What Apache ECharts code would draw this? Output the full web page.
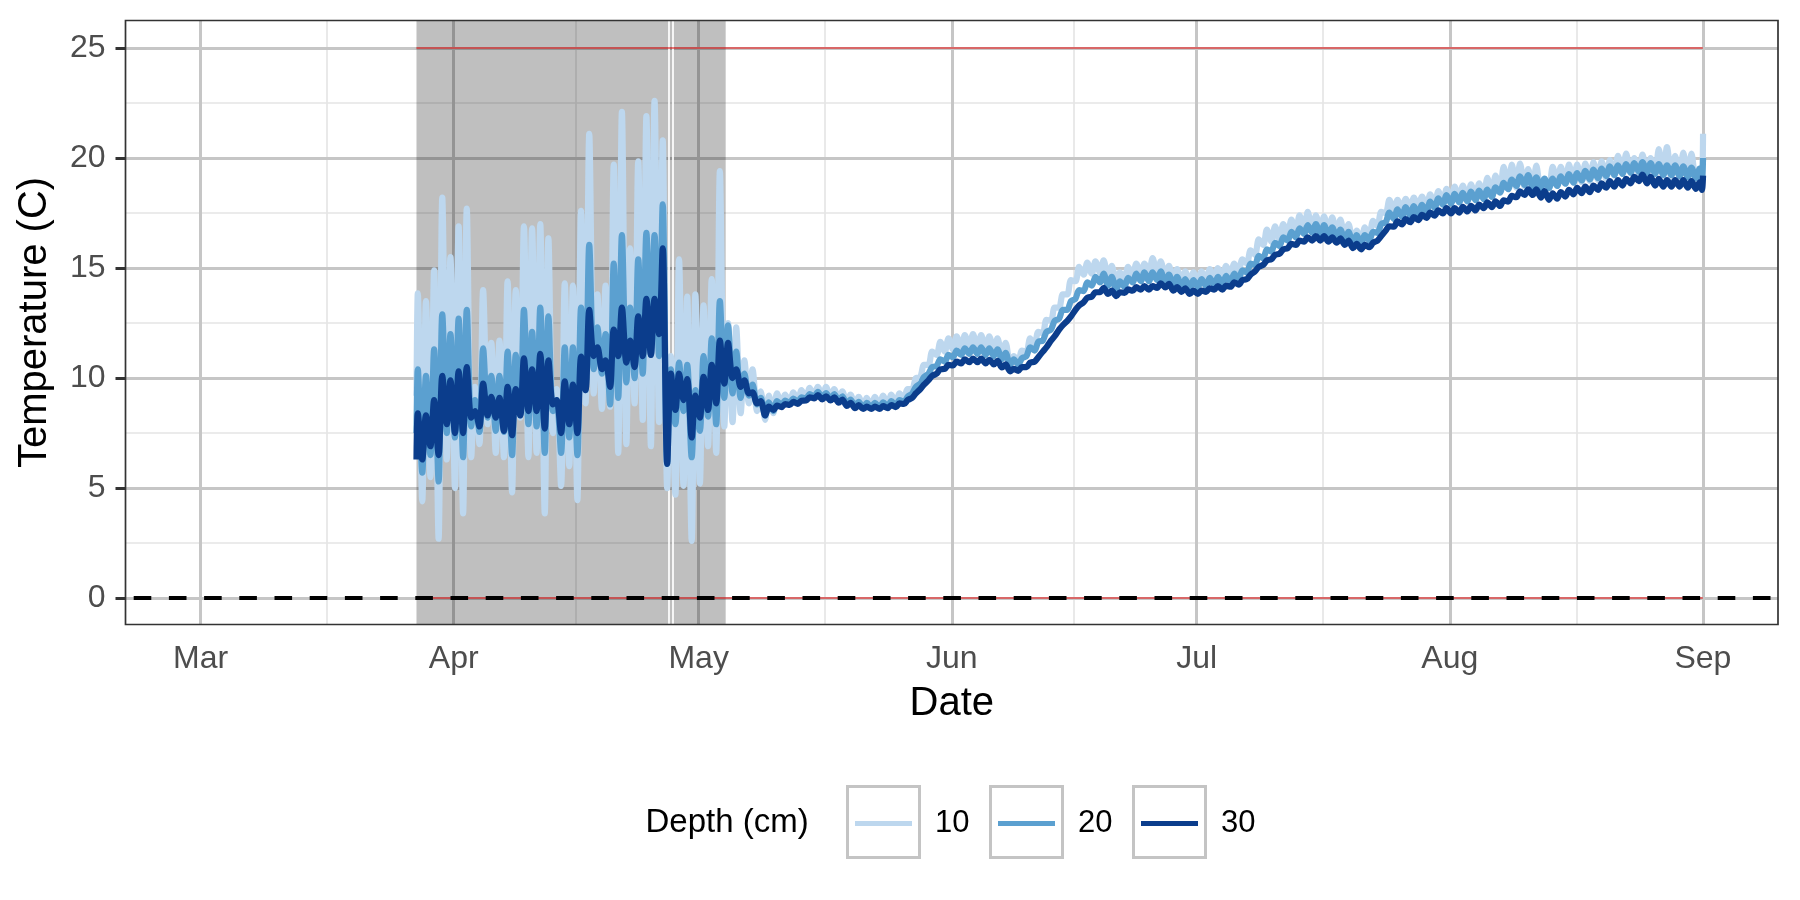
<!DOCTYPE html>
<html><head><meta charset="utf-8">
<script src="https://cdn.jsdelivr.net/npm/echarts@6/dist/echarts.min.js"></script>
<style>html,body{margin:0;padding:0;background:#fff}#chart{width:1800px;height:900px}</style>
</head><body><div id="chart"></div>
<script>
// ---- tick labels / categories ----
const monthLabels = ['Mar','Apr','May','Jun','Jul','Aug','Sep'];
const monthIdx = [2,3,4,5,6,7,8];
const yTicks = [0,5,10,15,20,25];
const depthNames = ['10','20','30'];
const depthColors = ['#bdd7ee','#5ba0d0','#0b3d8c'];
// first day of data = day offset from Mar 1 (Mar 27)
const firstDay = 26;
const shadeRange = [26.44, 64.31];      // days from Mar 1
const gapDays = [57.395, 57.80];
const refLevels = [0, 25];
const refRange = [26.44, 184];

// ---- daily maxima (hi) and minima (lo), days 26..183 ----
const hi10 = [13.85,13.5,14.9,18.2,15.5,16.9,17.7,9.6,14.0,11.6,
11.7,14.4,14.0,16.9,16.8,17.0,16.35,9.5,14.3,14.2,
17.6,21.1,13.8,14.2,19.7,22.1,15.9,19.85,21.9,22.6,
20.8,11.0,15.4,13.7,13.8,13.3,14.5,19.4,12.5,12.3,
10.8,10.4,9.4,9.2,9.3,9.25,9.35,9.45,9.55,9.6,
9.6,9.5,9.4,9.25,9.15,9.1,9.15,9.2,9.25,9.3,
9.5,10.0,10.6,11.2,11.65,11.8,11.9,11.95,12.0,11.95,
11.9,11.8,11.6,11.0,11.25,11.8,12.1,12.65,13.2,13.8,
14.45,15.05,15.25,15.3,15.35,15.1,14.8,15.05,15.2,15.2,
15.45,15.3,15.1,14.95,14.85,14.8,14.85,14.95,15.0,15.1,
15.2,15.4,15.8,16.3,16.75,16.9,17.0,17.2,17.4,17.55,
17.4,17.35,17.3,17.2,17.0,16.7,16.85,17.15,17.55,18.1,
18.1,18.15,18.2,18.25,18.35,18.5,18.6,18.7,18.75,18.8,
18.85,19.1,19.2,19.6,19.7,19.75,19.5,19.65,18.9,19.6,
19.6,19.7,19.7,19.75,19.8,19.85,19.9,20.1,20.2,20.0,
20.15,20.0,20.4,20.5,20.1,20.25,20.2,19.4];
const lo10 = [9.2,4.4,5.5,2.7,6.3,5.0,3.85,6.4,7.0,7.9,
6.6,6.4,4.8,8.2,6.4,6.6,3.85,7.5,5.1,6.0,
4.45,8.85,9.3,8.6,8.7,6.6,7.0,8.85,8.1,6.9,
8.0,5.0,4.7,5.1,2.6,5.2,6.9,6.6,7.8,8.0,
8.4,8.85,8.5,8.1,8.4,8.8,8.9,8.95,9.1,9.2,
9.15,9.1,9.0,8.85,8.75,8.7,8.7,8.75,8.8,8.85,
9.05,9.5,10.05,10.6,11.05,11.2,11.3,11.35,11.4,11.35,
11.3,11.2,11.05,10.6,10.75,11.2,11.5,12.05,12.6,13.2,
13.8,14.4,14.7,14.75,14.8,14.6,14.3,14.55,14.7,14.7,
14.75,14.75,14.6,14.45,14.35,14.3,14.35,14.45,14.5,14.6,
14.7,14.9,15.2,15.6,16.05,16.2,16.3,16.5,16.65,16.8,
16.7,16.7,16.65,16.55,16.35,16.1,16.15,16.5,16.9,17.5,
17.6,17.65,17.7,17.75,17.8,17.85,17.95,18.05,18.1,18.15,
18.2,18.2,18.3,18.5,18.6,18.65,18.7,18.6,18.55,18.7,
18.8,18.85,18.9,18.9,18.95,19.0,19.05,19.2,19.3,19.3,
19.3,19.25,19.3,19.2,19.1,19.1,19.05,19.0];
const end10 = [18.9, 21.1];

const hi20 = [10.4,10.1,11.3,12.9,12.0,12.7,13.1,9.0,11.35,10.1,
10.1,11.2,11.05,13.1,12.1,13.2,12.8,9.0,11.4,11.4,
13.2,16.05,12.3,12.0,15.2,16.5,13.2,15.4,16.6,16.5,
17.9,10.4,10.7,10.6,9.45,11.0,11.8,13.5,12.4,11.2,
10.2,9.7,9.1,8.9,8.95,8.97,9.07,9.12,9.27,9.37,
9.32,9.27,9.17,9.02,8.92,8.87,8.87,8.9,8.95,9.0,
9.15,9.6,10.05,10.5,10.85,11.05,11.25,11.35,11.4,11.4,
11.35,11.3,11.15,10.85,10.9,11.4,11.65,12.1,12.6,13.1,
13.5,14.0,14.35,14.6,14.75,14.6,14.4,14.55,14.75,14.8,
14.8,14.85,14.7,14.6,14.5,14.45,14.5,14.55,14.6,14.65,
14.75,14.9,15.2,15.55,15.85,16.15,16.4,16.65,16.8,16.95,
17.0,16.95,16.85,16.75,16.65,16.5,16.5,16.65,17.0,17.52,
17.67,17.77,17.82,17.87,18.02,18.17,18.32,18.37,18.42,18.47,
18.52,18.57,18.67,18.87,19.02,19.17,19.22,19.12,19.07,19.07,
19.17,19.27,19.32,19.42,19.47,19.52,19.62,19.67,19.72,19.77,
19.82,19.77,19.72,19.67,19.67,19.62,19.57,19.52];
const lo20 = [7.5,5.7,6.5,5.3,7.5,7.3,6.4,7.8,7.55,8.2,
7.6,7.55,6.5,8.3,7.9,7.8,6.6,8.5,6.6,7.3,
6.5,9.45,10.4,10.2,8.8,9.1,9.8,10.0,10.2,11.05,
11.0,6.1,7.9,8.5,6.4,7.6,8.25,7.9,9.1,9.3,
9.1,9.2,8.8,8.3,8.5,8.77,8.87,8.92,9.07,9.17,
9.12,9.07,8.97,8.82,8.72,8.67,8.67,8.67,8.72,8.77,
8.92,9.3,9.75,10.2,10.55,10.75,10.95,11.05,11.1,11.1,
11.05,11.0,10.85,10.6,10.62,11.0,11.25,11.7,12.2,12.7,
13.1,13.6,13.95,14.2,14.35,14.2,14.0,14.15,14.35,14.4,
14.4,14.45,14.3,14.2,14.12,14.08,14.12,14.17,14.22,14.27,
14.37,14.5,14.8,15.15,15.45,15.75,16.0,16.25,16.4,16.55,
16.6,16.55,16.45,16.35,16.25,16.1,16.1,16.25,16.6,17.08,
17.23,17.33,17.38,17.43,17.58,17.73,17.88,17.93,17.98,18.03,
18.08,18.13,18.23,18.43,18.58,18.73,18.78,18.68,18.63,18.63,
18.73,18.83,18.88,18.98,19.03,19.08,19.18,19.23,19.28,19.33,
19.38,19.33,19.28,19.23,19.23,19.18,19.13,19.08];
const end20 = [19.0, 20.0];

const hi30 = [8.4,8.3,9.0,10.1,9.9,10.3,10.5,8.5,9.75,9.15,
9.1,9.6,9.5,10.9,10.4,11.1,10.8,9.0,9.85,9.7,
10.97,13.1,11.4,10.8,12.2,13.2,11.7,12.8,13.6,13.6,
15.9,10.2,10.2,9.95,9.2,10.05,10.6,11.7,11.6,10.4,
9.9,9.35,8.95,8.7,8.75,8.82,8.92,8.97,9.12,9.22,
9.17,9.12,9.02,8.87,8.77,8.7,8.7,8.72,8.77,8.85,
9.0,9.3,9.7,10.1,10.4,10.6,10.75,10.85,10.88,10.88,
10.83,10.78,10.62,10.42,10.5,10.7,10.95,11.4,11.9,12.4,
12.8,13.3,13.65,13.9,14.1,13.98,13.9,14.03,14.13,14.18,
14.18,14.3,14.28,14.13,14.08,13.98,13.98,14.08,14.18,14.2,
14.35,14.45,14.7,15.05,15.35,15.6,15.85,16.1,16.25,16.4,
16.45,16.45,16.4,16.35,16.25,16.1,16.05,16.15,16.45,16.9,
17.12,17.22,17.32,17.42,17.52,17.62,17.72,17.72,17.78,17.83,
17.88,17.98,18.03,18.08,18.28,18.48,18.58,18.58,18.5,18.4,
18.45,18.55,18.65,18.7,18.75,18.85,18.95,19.0,19.05,19.15,
19.25,19.15,19.05,19.0,19.0,19.0,18.95,18.9];
const lo30 = [6.3,6.3,6.9,6.5,7.9,7.5,7.5,8.2,7.8,8.3,
8.2,7.6,7.4,8.3,8.5,8.5,7.7,8.8,7.5,7.9,
7.5,9.45,11.0,10.4,9.6,11.0,10.7,10.5,11.0,11.05,
12.0,6.1,8.55,9.0,7.3,8.2,8.55,8.85,9.75,10.0,
9.6,9.3,8.85,8.3,8.55,8.68,8.78,8.83,8.98,9.08,
9.03,8.98,8.88,8.73,8.63,8.6,8.6,8.6,8.63,8.68,
8.82,9.1,9.5,9.9,10.2,10.42,10.57,10.67,10.72,10.72,
10.67,10.62,10.48,10.3,10.33,10.5,10.75,11.2,11.7,12.2,
12.6,13.1,13.45,13.7,13.9,13.82,13.72,13.87,13.97,14.02,
14.02,14.1,14.12,13.97,13.92,13.82,13.82,13.92,14.02,14.02,
14.15,14.25,14.5,14.85,15.15,15.4,15.65,15.9,16.05,16.2,
16.25,16.25,16.2,16.15,16.05,15.9,15.85,15.95,16.25,16.7,
16.88,16.98,17.08,17.18,17.28,17.38,17.48,17.48,17.52,17.57,
17.62,17.72,17.77,17.82,18.02,18.22,18.32,18.32,18.2,18.1,
18.15,18.25,18.35,18.4,18.45,18.55,18.65,18.7,18.75,18.85,
18.95,18.85,18.75,18.7,18.7,18.7,18.65,18.6];
const end30 = [18.55, 19.2];

// ---- build ----
const DAY = 86400000, T0 = Date.UTC(2019, 2, 1);
const t = d => T0 + d * DAY;
function build(lo, hi, end) {
  const out = [];
  for (let i = 0; i < lo.length; i++) {
    const k = firstDay + i;
    out.push([t(i === 0 ? shadeRange[0] : k + 0.15), lo[i]]);
    out.push([t(k + 0.6), hi[i]]);
  }
  out.push([t(183.88), end[0]]);
  out.push([t(184.02), end[1]]);
  return out;
}
const seriesData = [build(lo10, hi10, end10), build(lo20, hi20, end20), build(lo30, hi30, end30)];

const FONT = 'Liberation Sans, Arial, Helvetica, sans-serif';
const majorX = monthIdx.map(m => Date.UTC(2019, m, 1));
const minorX = majorX.slice(1).map((v, i) => (v + majorX[i]) / 2);
const minorY = yTicks.slice(1).map((v, i) => (v + yTicks[i]) / 2);

const gridLines = [];
minorX.forEach(v => gridLines.push({xAxis: v, lineStyle: {color: '#e4e4e4', width: 1.6, type: 'solid'}}));
minorY.forEach(v => gridLines.push({yAxis: v, lineStyle: {color: '#e4e4e4', width: 1.6, type: 'solid'}}));
majorX.forEach(v => gridLines.push({xAxis: v, lineStyle: {color: '#c6c6c6', width: 3, type: 'solid'}}));
yTicks.forEach(v => gridLines.push({yAxis: v, lineStyle: {color: '#c6c6c6', width: 3, type: 'solid'}}));

const GL = {left: 125.5, top: 20.5, width: 1652.5, height: 604};

const chart = echarts.init(document.getElementById('chart'), null, {renderer: 'canvas'});
const lineSeries = depthNames.map((n, i) => ({
  type: 'line', name: n, data: seriesData[i], z: 4 + i,
  showSymbol: false, symbol: 'none', silent: true, animation: false,
  smooth: 0.3,
  color: depthColors[i],
  itemStyle: {color: depthColors[i]},
  lineStyle: {color: depthColors[i], width: 6.2, join: 'round'}
}));

const legends = depthNames.map((n, i) => ({
  show: true, data: [n], left: 855 + 143 * i, top: 808, orient: 'horizontal',
  padding: 0, itemGap: 0, itemWidth: 57, itemHeight: 5, icon: 'rect',
  selectedMode: false, itemStyle: {borderWidth: 0},
  textStyle: {fontSize: 31, color: '#000', fontFamily: FONT, lineHeight: 30, padding: [0, 0, 0, 18]}
}));

const boxes = [0, 1, 2].map(i => ({
  type: 'rect', silent: true, z: 1,
  shape: {x: 847.5 + 143 * i, y: 786.5, width: 72, height: 71},
  style: {fill: 'none', stroke: '#c4c4c4', lineWidth: 3}
}));

chart.setOption({
  animation: false,
  backgroundColor: '#ffffff',
  grid: Object.assign({show: false, outerBoundsMode: 'none', containLabel: false}, GL),
  xAxis: {
    type: 'value', min: t(-9.2), max: t(193.2),
    splitLine: {show: false}, axisLine: {show: false},
    axisTick: {show: true, customValues: majorX, length: 10, lineStyle: {color: '#333', width: 3}},
    axisLabel: {customValues: majorX, margin: 19, fontSize: 32, color: '#4d4d4d', fontFamily: FONT,
      formatter: v => monthLabels[monthIdx.indexOf(new Date(v).getUTCMonth())]},
    name: 'Date', nameLocation: 'middle', nameGap: 59,
    nameTextStyle: {fontSize: 40, color: '#000', fontFamily: FONT}
  },
  yAxis: {
    type: 'value', min: -1.2, max: 26.25,
    splitLine: {show: false}, axisLine: {show: false},
    axisTick: {show: true, customValues: yTicks, length: 10, lineStyle: {color: '#333', width: 3}},
    axisLabel: {customValues: yTicks, margin: 20, fontSize: 32, color: '#4d4d4d', fontFamily: FONT},
    name: 'Temperature (C)', nameLocation: 'middle', nameGap: 71,
    nameTextStyle: {fontSize: 40, color: '#000', fontFamily: FONT}
  },
  legend: legends,
  graphic: [
    ...boxes,
    {type: 'text', x: 645.5, y: 823, silent: true,
     style: {text: 'Depth (cm)', fontSize: 33, fontFamily: FONT, fill: '#000', verticalAlign: 'middle', align: 'left'}},
    {type: 'rect', silent: true, z: 100,
     shape: {x: GL.left, y: GL.top, width: GL.width, height: GL.height},
     style: {fill: 'none', stroke: '#333', lineWidth: 1.7}}
  ],
  series: [
    {type: 'line', name: 'grid', data: [], silent: true, z: 1,
     markLine: {z: 1, silent: true, symbol: ['none', 'none'], label: {show: false}, animation: false, data: gridLines}},
    {type: 'line', name: 'shade', data: [], silent: true, z: 2,
     markArea: {z: 2, silent: true, itemStyle: {color: 'rgba(0,0,0,0.25)'}, label: {show: false},
       data: [[{xAxis: t(shadeRange[0])}, {xAxis: t(shadeRange[1])}]]},
     markLine: {z: 3, silent: true, symbol: ['none', 'none'], label: {show: false}, animation: false,
       lineStyle: {color: '#ffffff', width: 1.7, type: 'solid'},
       data: gapDays.map(d => ({xAxis: t(d)}))}},
    {type: 'line', name: 'ref', data: [], silent: true, z: 3,
     markLine: {z: 3, silent: true, symbol: ['none', 'none'], label: {show: false}, animation: false,
       lineStyle: {color: 'rgba(228,40,40,0.6)', width: 2, type: 'solid'},
       data: refLevels.map(v => [{coord: [t(refRange[0]), v]}, {coord: [t(refRange[1]), v]}])}},
    ...lineSeries,
    {type: 'line', name: 'zero', data: [], silent: true, z: 8,
     markLine: {z: 8, silent: true, symbol: ['none', 'none'], label: {show: false}, animation: false,
       lineStyle: {color: '#000', width: 4, type: [17.6, 17.6], dashOffset: 27},
       data: [{yAxis: 0}]}}
  ]
});
</script></body></html>
